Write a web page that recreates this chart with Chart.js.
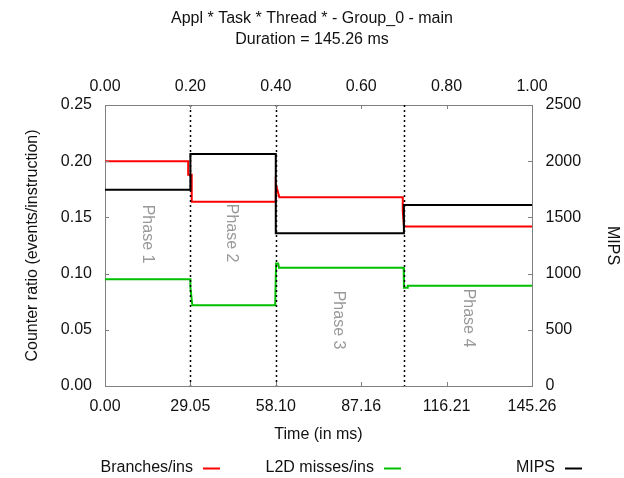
<!DOCTYPE html>
<html>
<head>
<meta charset="utf-8">
<script src="https://cdn.jsdelivr.net/npm/chart.js@4/dist/chart.umd.min.js"></script>
<style>
  html, body { margin: 0; padding: 0; background: #ffffff; }
  #wrap { width: 624px; height: 478px; }
</style>
</head>
<body>
<div id="wrap"><canvas id="c" width="624" height="478"></canvas></div>
<script>
// ---------------- data ----------------
const titleLines = ['Appl * Task * Thread * - Group_0 - main', 'Duration = 145.26 ms'];
const seriesLabels = ['Branches/ins', 'L2D misses/ins', 'MIPS'];

const branchesTime  = [0, 28.3, 28.3, 29.5, 29.5, 58.1, 58.1, 58.9, 59.3, 101.3, 101.3, 101.7, 145.26];
const branchesValue = [0.200, 0.200, 0.188, 0.188, 0.164, 0.164, 0.180, 0.172, 0.168, 0.168, 0.155, 0.142, 0.142];

const l2dTime  = [0, 29.05, 29.05, 29.7, 57.9, 58.2, 58.9, 59.2, 101.6, 101.7, 102.8, 103.0, 145.26];
const l2dValue = [0.095, 0.095, 0.088, 0.0718, 0.0718, 0.109, 0.109, 0.1052, 0.1052, 0.0875, 0.0875, 0.0892, 0.0892];

const mipsTime  = [0, 29.05, 29.05, 58.10, 58.10, 101.68, 101.68, 145.26];
const mipsValue = [1746, 1746, 2064, 2064, 1358, 1358, 1610, 1610];

const phaseBoundaries = [29.05, 58.10, 101.68];
const phaseNames = ['Phase 1', 'Phase 2', 'Phase 3', 'Phase 4'];

const timeTicks  = [0, 29.05, 58.10, 87.16, 116.21, 145.26];
const fracTicks  = [0, 0.2, 0.4, 0.6, 0.8, 1.0];
const ratioTicks = [0, 0.05, 0.10, 0.15, 0.20, 0.25];
const mipsTicks  = [0, 500, 1000, 1500, 2000, 2500];

// ---------------- helpers ----------------
const FONT = 'Liberation Sans, Arial, sans-serif';
const zip = (xs, ys) => xs.map((x, i) => ({ x: x, y: ys[i] }));
const setTicks = arr => (scale) => { scale.ticks = arr.map(v => ({ value: v })); };

// label anchor positions for the phase names (time, ratio)
const phaseLabelPos = [[14.3, 0.1352], [42.9, 0.136], [79.3, 0.0587], [123.5, 0.0605]];

const overlayPlugin = {
  id: 'overlay',
  afterDatasetsDraw(chart) {
    const ctx = chart.ctx, a = chart.chartArea;
    const sx = chart.scales.x, sy = chart.scales.y;
    ctx.save();
    // dotted phase boundaries
    ctx.strokeStyle = '#000';
    ctx.lineWidth = 1.5;
    ctx.setLineDash([2, 3]);
    phaseBoundaries.forEach(t => {
      const px = Math.round(sx.getPixelForValue(t)) + 0.5;
      ctx.beginPath(); ctx.moveTo(px, a.top); ctx.lineTo(px, a.bottom); ctx.stroke();
    });
    ctx.setLineDash([]);
    // inward tick marks
    ctx.strokeStyle = '#808080';
    ctx.lineWidth = 1;
    const L = 4;
    const inner = (v, s) => v > s.min + 1e-9 && v < s.max - 1e-9;
    timeTicks.filter(v => inner(v, sx)).forEach(v => {
      const p = Math.round(sx.getPixelForValue(v)) + 0.5;
      ctx.beginPath(); ctx.moveTo(p, a.bottom); ctx.lineTo(p, a.bottom - L); ctx.stroke();
    });
    const sx2 = chart.scales.x2;
    fracTicks.filter(v => inner(v, sx2)).forEach(v => {
      const p = Math.round(sx2.getPixelForValue(v)) + 0.5;
      ctx.beginPath(); ctx.moveTo(p, a.top); ctx.lineTo(p, a.top + L); ctx.stroke();
    });
    ratioTicks.filter(v => inner(v, sy)).forEach(v => {
      const p = Math.round(sy.getPixelForValue(v)) + 0.5;
      ctx.beginPath(); ctx.moveTo(a.left, p); ctx.lineTo(a.left + L, p); ctx.stroke();
    });
    const sy2 = chart.scales.y2;
    mipsTicks.filter(v => inner(v, sy2)).forEach(v => {
      const p = Math.round(sy2.getPixelForValue(v)) + 0.5;
      ctx.beginPath(); ctx.moveTo(a.right, p); ctx.lineTo(a.right - L, p); ctx.stroke();
    });
    // phase labels (rotated, reading downward)
    ctx.fillStyle = '#999999';
    ctx.font = '16px ' + FONT;
    ctx.textAlign = 'center';
    ctx.textBaseline = 'middle';
    phaseNames.forEach((name, i) => {
      const px = sx.getPixelForValue(phaseLabelPos[i][0]);
      const py = sy.getPixelForValue(phaseLabelPos[i][1]);
      ctx.save(); ctx.translate(px, py); ctx.rotate(Math.PI / 2); ctx.fillText(name, 0, 0); ctx.restore();
    });
    ctx.restore();
  },
  afterDraw(chart) {
    // legend: text followed by a line sample
    const ctx = chart.ctx;
    ctx.save();
    ctx.font = '16px ' + FONT;
    ctx.textBaseline = 'middle';
    ctx.textAlign = 'right';
    const y = 468;
    chart.data.datasets.forEach((ds, i) => {
      const sampleX = 203 + i * 181;
      ctx.fillStyle = '#111';
      ctx.fillText(ds.label, sampleX - 10, y);
      ctx.strokeStyle = ds.borderColor;
      ctx.lineWidth = 2;
      ctx.beginPath(); ctx.moveTo(sampleX, y + 0.5); ctx.lineTo(sampleX + 17, y + 0.5); ctx.stroke();
    });
    ctx.restore();
  }
};

const tickFont = { family: FONT, size: 16 };
const border = { display: true, color: '#808080', width: 1 };
const grid = { display: true, drawOnChartArea: false, drawTicks: false };

new Chart(document.getElementById('c'), {
  type: 'line',
  data: {
    datasets: [
      { label: seriesLabels[0], data: zip(branchesTime, branchesValue), borderColor: '#ff0000', xAxisID: 'x', yAxisID: 'y', order: 2 },
      { label: seriesLabels[1], data: zip(l2dTime, l2dValue), borderColor: '#00c000', xAxisID: 'x', yAxisID: 'y', order: 3 },
      { label: seriesLabels[2], data: zip(mipsTime, mipsValue), borderColor: '#000000', xAxisID: 'x', yAxisID: 'y2', order: 1 }
    ]
  },
  options: {
    responsive: false,
    animation: false,
    devicePixelRatio: 1,
    elements: {
      point: { radius: 0, hoverRadius: 0 },
      line: { borderWidth: 2, tension: 0, fill: false, borderCapStyle: 'butt', borderJoinStyle: 'miter' }
    },
    layout: { padding: { top: 0, left: 0, right: 0, bottom: 32 } },
    plugins: {
      legend: { display: false },
      tooltip: { enabled: false },
      title: {
        display: true,
        text: titleLines,
        color: '#111',
        font: { family: FONT, size: 16, weight: 'normal', lineHeight: 1.3 },
        padding: { top: 8.6, bottom: 8 }
      }
    },
    scales: {
      x: {
        type: 'linear', position: 'bottom', min: 0, max: 145.26,
        afterBuildTicks: setTicks(timeTicks),
        afterFit: s => { s.height = 60; },
        ticks: { font: tickFont, color: '#111', padding: 11.4, maxRotation: 0, autoSkip: false,
                 callback: v => Number(v).toFixed(2) },
        grid: grid, border: border,
        title: { display: true, text: 'Time (in ms)', color: '#111', font: { family: FONT, size: 16 }, padding: { top: 0, bottom: 1.4 } }
      },
      x2: {
        type: 'linear', position: 'top', min: 0, max: 1,
        afterBuildTicks: setTicks(fracTicks),
        afterFit: s => { s.height = 46.8; },
        ticks: { font: tickFont, color: '#111', padding: 8.4, maxRotation: 0, autoSkip: false,
                 callback: v => Number(v).toFixed(2) },
        grid: grid, border: border
      },
      y: {
        type: 'linear', position: 'left', min: 0, max: 0.25,
        afterBuildTicks: setTicks(ratioTicks),
        afterFit: s => { s.width = 105; },
        ticks: { font: tickFont, color: '#111', padding: 13, autoSkip: false,
                 callback: v => Number(v).toFixed(2) },
        grid: grid, border: border,
        title: { display: true, text: 'Counter ratio (events/instruction)', color: '#111', font: { family: FONT, size: 16 }, padding: { top: 23.4, bottom: 0 } }
      },
      y2: {
        type: 'linear', position: 'right', min: 0, max: 2500,
        afterBuildTicks: setTicks(mipsTicks),
        afterFit: s => { s.width = 92; },
        ticks: { font: tickFont, color: '#111', padding: 13.5, autoSkip: false,
                 callback: v => String(Math.round(v)) },
        grid: grid, border: border,
        title: { display: true, text: 'MIPS', color: '#111', font: { family: FONT, size: 16 }, padding: { top: 2.4, bottom: 0 } }
      }
    }
  },
  plugins: [overlayPlugin]
});
</script>
</body>
</html>
